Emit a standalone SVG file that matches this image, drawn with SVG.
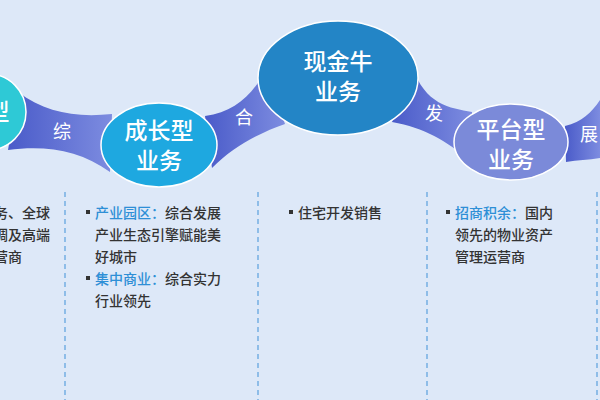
<svg xmlns="http://www.w3.org/2000/svg" width="600" height="400" viewBox="0 0 600 400">
<defs>
<linearGradient id="band" x1="0" y1="0" x2="1" y2="0"><stop offset="0" stop-color="#4a5bc9"/><stop offset="1" stop-color="#7d8ce0"/></linearGradient>
<style>
.lbl{font-family:"Noto Sans CJK SC","Noto Sans",sans-serif;fill:#fff;font-size:18px;text-anchor:middle}
.nt{font-family:"Noto Sans CJK SC","Noto Sans",sans-serif;fill:#fff;font-size:23px;font-weight:500;text-anchor:middle}
.tx{font-family:"Noto Sans CJK SC","Noto Sans",sans-serif;fill:#333;font-size:14px;font-weight:500}
.hl{fill:#2e8fd6}
.dash{stroke:#5aa0de;stroke-width:1.2;stroke-dasharray:5 4}
.c{stroke:#fff;stroke-width:1.5}
</style>
</defs>
<rect width="600" height="400" fill="#dde8f8"/>
<g id="connectors" fill="url(#band)">
<path d="M18,92 C45,112 75,118 112,114 L110,172 C80,150 45,145 8,150 Z"/>
<path d="M205,116 C235,112 252,95 266,70 L285,124 C262,132 235,145 212,168 Z"/>
<path d="M412,66 C425,105 450,108 472,112 L472,162 C445,140 425,128 392,122 Z"/>
<path d="M565,126 C582,122 592,112 600,100 L600,158 C588,160 578,160 566,162 Z"/>
</g>
<g id="n1"><circle cx="-12" cy="112" r="38" fill="#2ec9d6" class="c"/><text class="nt" x="-2" y="120">型</text></g>
<g id="n2"><ellipse cx="159" cy="145" rx="58" ry="42" fill="#1ea8e0" class="c"/><text class="nt" x="159" y="139">成长型</text><text class="nt" x="159" y="169">业务</text></g>
<g id="n3"><ellipse cx="338" cy="78" rx="80" ry="57" fill="#2385c6" class="c"/><text class="nt" x="338" y="70">现金牛</text><text class="nt" x="338" y="100">业务</text></g>
<g id="n4"><ellipse cx="511" cy="142" rx="57" ry="38" fill="#7b8ad9" class="c"/><text class="nt" x="511" y="138">平台型</text><text class="nt" x="511" y="168">业务</text></g>
<text class="lbl" x="62" y="138">综</text>
<text class="lbl" x="244" y="124">合</text>
<text class="lbl" x="434" y="120">发</text>
<text class="lbl" x="589" y="141">展</text>
<g>
<line class="dash" x1="65" y1="192" x2="65" y2="400"/>
<line class="dash" x1="258" y1="192" x2="258" y2="400"/>
<line class="dash" x1="427" y1="192" x2="427" y2="400"/>
<line class="dash" x1="597" y1="192" x2="597" y2="400"/>
</g>
<g class="tx">
<text x="-6" y="218">务、全球</text>
<text x="-6" y="240">调及高端</text>
<text x="-6" y="262">营商</text>
<rect x="86" y="210" width="4" height="4" fill="#333"/>
<text x="95" y="218"><tspan class="hl">产业园区：</tspan>综合发展</text>
<text x="95" y="240">产业生态引擎赋能美</text>
<text x="95" y="262">好城市</text>
<rect x="86" y="276" width="4" height="4" fill="#333"/>
<text x="95" y="284"><tspan class="hl">集中商业：</tspan>综合实力</text>
<text x="95" y="306">行业领先</text>
<rect x="289" y="210" width="4" height="4" fill="#333"/>
<text x="298" y="218">住宅开发销售</text>
<rect x="446" y="210" width="4" height="4" fill="#333"/>
<text x="455" y="218"><tspan class="hl">招商积余：</tspan>国内</text>
<text x="455" y="240">领先的物业资产</text>
<text x="455" y="262">管理运营商</text>
</g>
</svg>
